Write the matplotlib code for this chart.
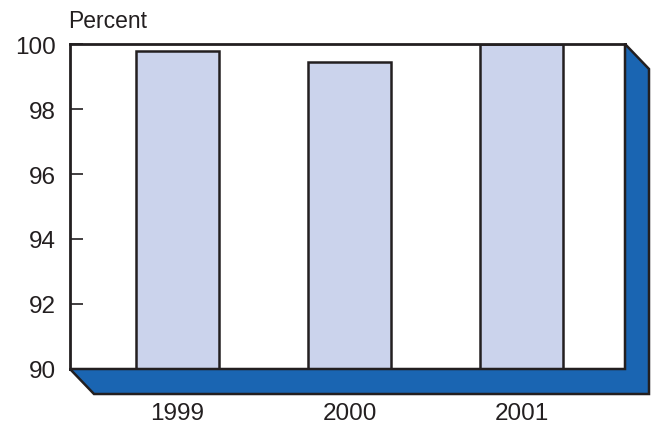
import matplotlib
matplotlib.use("Agg")
import matplotlib.pyplot as plt
from matplotlib.patches import Polygon

plt.rcParams['font.family'] = ['Liberation Sans', 'DejaVu Sans']

years = ["1999", "2000", "2001"]
percent = [99.78, 99.45, 100.0]
y_ticks = [90, 92, 94, 96, 98, 100]

W, H = 652, 427
fig = plt.figure(figsize=(W / 100, H / 100), dpi=100)
left, right, top, bottom = 70, 625, 45, 370
ax = fig.add_axes([left / W, (H - bottom) / H, (right - left) / W, (bottom - top) / H])

x = range(len(years))
ax.bar(x, percent, width=0.485, bottom=0, color="#cbd3ec",
       edgecolor="#231f20", linewidth=1.8, zorder=2)
ax.set_xlim(-0.625, 2.6)
ax.set_ylim(90, 100)
ax.set_yticks(y_ticks)
ax.set_yticklabels([str(t) for t in y_ticks], fontsize=17.5, color="#231f20")
ax.set_xticks(list(x))
ax.set_xticklabels(years, fontsize=17.5, color="#231f20")
ax.tick_params(axis="y", direction="in", length=9, width=1.2, color="#231f20", pad=10)
ax.tick_params(axis="x", length=0, pad=24)
for s in ax.spines.values():
    s.set_linewidth(2)
    s.set_color("#231f20")

# raised-plate shadow along bottom and right edges
dx = 24 / (right - left)
dy = 25 / (bottom - top)
shadow = Polygon([(0, 0), (1, 0), (1, 1), (1 + dx, 1 - dy), (1 + dx, -dy), (dx, -dy)],
                 closed=True, transform=ax.transAxes, facecolor="#1a65b2",
                 edgecolor="#231f20", linewidth=1.8, clip_on=False, zorder=0)
fig.patches.append(shadow)
shadow.set_figure(fig)

fig.text(68 / W, 1 - 21 / H, "Percent", fontsize=16.5, color="#231f20",
         ha="left", va="center")

fig.savefig("out.png", dpi=100)
